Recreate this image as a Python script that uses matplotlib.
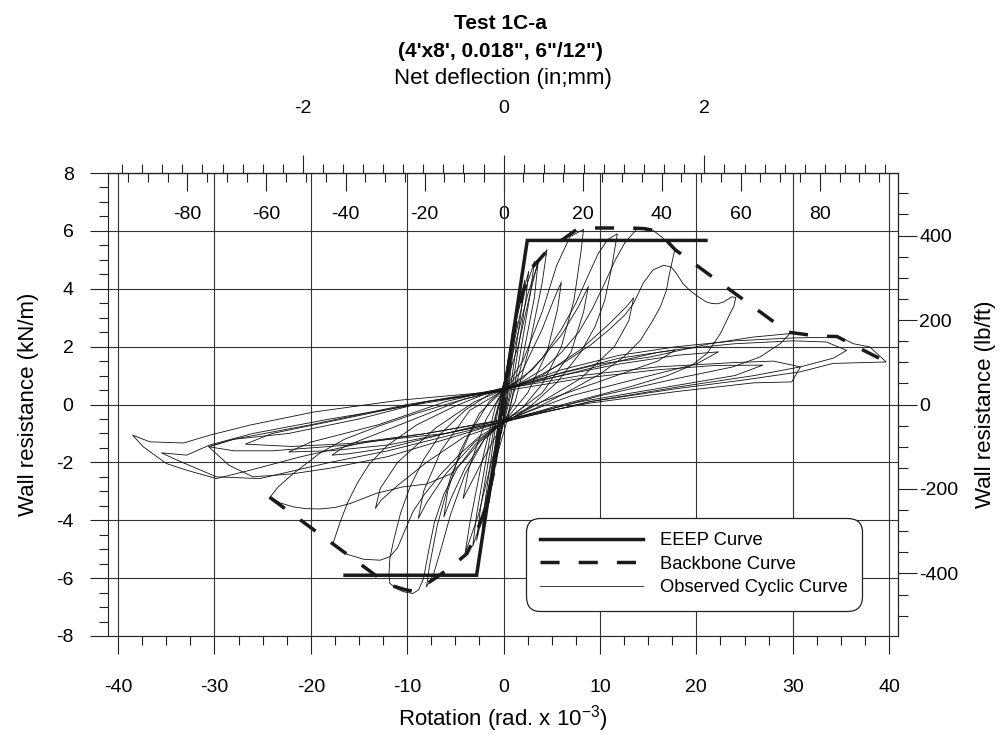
import matplotlib.pyplot as plt
from matplotlib.lines import Line2D
from matplotlib.ticker import MultipleLocator, FixedLocator

plt.rcParams['font.family'] = ['Liberation Sans', 'DejaVu Sans']
plt.rcParams['mathtext.default'] = 'regular'
plt.rcParams['axes.unicode_minus'] = False

# rotation (rad x 1e-3) vs wall resistance (kN/m)
eeep_x = [-16.45, -2.8, 2.46, 21.0]
eeep_y = [-5.9, -5.9, 5.67, 5.67]

backbone_x = [-24.3, -13.3, -11.8, -10.2, -9.4, -8.2, -6.9, -5.2, -3.8, -3.0, -2.0, -1.0, 0.0,
              1.0, 2.0, 3.0, 4.5, 5.5, 7.6, 9.3, 11.4, 13.1, 14.5, 15.9, 16.9, 17.8,
              29.5, 32.7, 34.6, 36.3, 39.75]
backbone_y = [-3.2, -5.9, -6.24, -6.4, -6.45, -6.25, -5.96, -5.55, -5.15, -4.6, -3.7, -2.3, 0.0,
              2.4, 3.9, 4.75, 5.3, 5.55, 6.05, 6.1, 6.1, 6.1, 6.08, 6.0, 5.67, 5.35,
              2.5, 2.36, 2.35, 2.05, 1.47]

# observed cyclic curve, one list per cycle
cyc_01 = [(0, 0.4), (0.4, 1.3), (0.8, 2.1), (0.6, 1.4), (0.2, 0.1), (-0.3, -1.0), (-0.8, -2.1),
          (-0.6, -1.4), (-0.2, -0.1), (0, 0.4)]
cyc_02 = [(0.1, 0.45), (0.7, 1.9), (1.5, 3.4), (1.2, 2.5), (0.4, 0.2), (-0.5, -1.3), (-1.5, -3.4),
          (-1.2, -2.5), (-0.4, -0.1), (0.1, 0.45)]
cyc_03 = [(-0.2, 0.3), (1.0, 2.4), (2.2, 4.3), (1.9, 3.4), (0.6, 0.3), (-0.6, -1.4), (-2.2, -4.3),
          (-1.9, -3.3), (-0.6, -0.2), (-0.2, 0.3)]
cyc_04 = [(-0.3, 0.3), (1.0, 2.0), (2.2, 3.9), (3.2, 4.95), (2.8, 3.9), (1.5, 1.3), (0.5, -0.4),
          (-0.8, -1.9), (-2.2, -3.9), (-3.2, -4.9), (-2.8, -3.8), (-1.4, -1.1), (-0.3, 0.3)]
cyc_05 = [(-0.3, 0.4), (1.0, 1.8), (2.5, 3.8), (3.6, 4.9), (4.5, 5.35), (4.0, 4.2), (2.6, 1.9),
          (1.2, 0.1), (0.0, -0.6), (-1.2, -1.9), (-2.6, -3.8), (-4.0, -5.15), (-3.5, -4.1),
          (-2.2, -1.9), (-0.8, 0.0), (0.0, 0.5)]
cyc_06 = [(0.0, 0.5), (1.5, 2.0), (2.8, 3.9), (3.6, 4.98), (3.2, 3.7), (1.8, 1.3), (0.4, -0.4),
          (-1.5, -1.5), (-3.2, -2.6), (-4.2, -3.25), (-3.6, -2.2), (-1.8, -0.5), (0.0, 0.5)]
cyc_07 = [(0.2, 0.6), (2.0, 1.5), (4.0, 3.2), (5.5, 4.8), (6.9, 5.8), (8.3, 6.05), (8.0, 5.2),
          (7.3, 3.6), (6.0, 2.0), (4.0, 0.7), (2.0, -0.1), (-0.2, -0.65), (-2.0, -1.2), (-4.0, -2.4),
          (-5.5, -3.8), (-6.5, -5.0), (-7.3, -5.9), (-8.0, -6.3), (-7.7, -5.6), (-6.9, -4.2),
          (-5.5, -2.5), (-3.5, -1.0), (-1.5, 0.1), (0.2, 0.6)]
cyc_08 = [(0.0, 0.5), (2.0, 1.2), (4.0, 2.6), (5.3, 3.7), (6.0, 4.23), (5.6, 3.3), (4.5, 1.8),
          (2.5, 0.4), (0.3, -0.5), (-2.0, -1.2), (-4.0, -2.2), (-5.4, -3.2), (-6.2, -3.88),
          (-5.8, -3.0), (-4.5, -1.6), (-2.5, -0.3), (0.0, 0.5)]
cyc_09 = [(0.1, 0.55), (2.0, 0.9), (4.0, 1.6), (6.0, 2.6), (7.5, 3.5), (8.7, 4.4), (9.8, 5.2),
          (10.8, 5.7), (11.8, 5.9), (11.6, 5.5), (11.2, 4.7), (10.5, 3.6), (9.5, 2.7), (8.0, 1.8),
          (5.5, 0.75), (3.0, 0.0), (0.8, -0.5), (-1.0, -0.8), (-3.0, -1.4), (-4.8, -2.2),
          (-6.2, -3.1), (-7.2, -4.1), (-7.8, -5.1), (-8.3, -6.0), (-8.8, -6.4), (-9.4, -6.53),
          (-10.4, -6.47), (-11.2, -6.35), (-11.8, -6.18), (-11.9, -5.9), (-11.8, -5.3),
          (-11.4, -4.69), (-10.7, -3.76), (-9.7, -2.84), (-8.3, -1.9), (-6.5, -1.0), (-4.0, -0.2),
          (-1.5, 0.35), (0.1, 0.55)]
cyc_10 = [(-0.2, 0.45), (3.0, 1.2), (6.0, 2.4), (7.8, 3.4), (8.8, 4.08), (8.3, 3.2), (7.0, 1.8),
          (4.0, 0.4), (0.0, -0.6), (-3.0, -1.3), (-6.0, -2.4), (-8.0, -3.4), (-8.85, -3.94),
          (-8.3, -3.0), (-6.5, -1.6), (-3.5, -0.2), (-0.2, 0.45)]
cyc_11 = [(0.2, 0.6), (2.0, 0.8), (4.0, 1.2), (6.0, 1.8), (7.8, 2.5), (9.2, 3.3), (10.5, 4.2),
          (11.6, 5.0), (12.6, 5.6), (13.8, 6.05), (14.8, 6.1), (15.5, 6.02), (16.4, 5.79),
          (17.2, 5.55), (17.8, 5.39), (17.6, 5.1), (17.2, 4.5), (16.9, 3.95), (16.3, 3.4),
          (15.5, 2.91), (14.2, 2.22), (12.5, 1.65), (10.0, 1.05), (7.0, 0.5), (3.5, -0.1),
          (1.0, -0.45), (-0.5, -0.7), (-2.5, -1.1), (-4.5, -1.7), (-6.5, -2.4), (-8.2, -3.1),
          (-9.4, -3.7), (-10.3, -4.4), (-11.0, -4.95), (-11.8, -5.26), (-12.8, -5.38),
          (-14.5, -5.35), (-16.5, -5.15), (-17.7, -4.8), (-17.4, -4.5), (-17.0, -4.1),
          (-16.2, -3.4), (-15.2, -2.73), (-13.9, -2.04), (-12.0, -1.4), (-9.0, -0.7),
          (-5.0, -0.05), (-2.0, 0.35), (0.2, 0.6)]
cyc_12 = [(0.0, 0.5), (4.0, 1.0), (8.0, 1.9), (11.0, 2.8), (12.8, 3.4), (13.5, 3.69), (13.0, 2.9),
          (11.5, 2.0), (8.0, 0.9), (4.0, 0.1), (-0.4, -0.7), (-4.0, -1.1), (-8.0, -2.0),
          (-11.0, -2.8), (-12.7, -3.3), (-13.3, -3.59), (-12.8, -2.9), (-11.0, -2.0), (-7.0, -0.8),
          (-3.0, 0.1), (0.0, 0.5)]
cyc_13 = [(-0.2, 0.5), (2.0, 0.75), (4.0, 1.05), (6.5, 1.5), (9.0, 2.05), (11.0, 2.6),
          (12.6, 3.1), (13.5, 3.5), (14.5, 4.2), (15.5, 4.65), (16.6, 4.81), (17.4, 4.75),
          (18.0, 4.5), (18.6, 4.18), (19.3, 3.95), (20.0, 3.77), (21.0, 3.55), (21.6, 3.49),
          (22.2, 3.48), (22.8, 3.54), (23.4, 3.66), (23.7, 3.72), (24.1, 3.7), (23.9, 3.4),
          (23.5, 3.14), (22.5, 2.45), (21.1, 1.76), (19.5, 1.35), (17.0, 1.0), (13.0, 0.6),
          (9.0, 0.25), (5.0, -0.1), (1.5, -0.45), (-0.5, -0.7), (-2.5, -1.3), (-4.0, -1.9),
          (-5.5, -2.4), (-8.0, -2.75), (-10.5, -2.85), (-13.2, -3.07), (-15.9, -3.42),
          (-17.5, -3.56), (-19.1, -3.61), (-20.5, -3.6), (-21.8, -3.54), (-23.2, -3.4),
          (-24.2, -3.19), (-23.4, -2.85), (-21.8, -2.38), (-19.1, -1.69), (-16.5, -1.2),
          (-13.0, -0.75), (-9.0, -0.3), (-5.0, 0.1), (-1.5, 0.4), (-0.2, 0.5)]
cyc_14 = [(0.0, 0.5), (6.0, 1.0), (12.0, 1.5), (16.0, 1.8), (17.8, 1.88), (16.0, 1.5), (10.0, 0.8),
          (4.0, 0.1), (0.2, -0.5), (-6.0, -1.0), (-12.0, -1.5), (-16.0, -1.7), (-17.8, -1.75),
          (-16.5, -1.45), (-10.0, -0.6), (-4.0, 0.2), (0.0, 0.5)]
cyc_15 = [(0.3, 0.6), (6.0, 1.0), (12.0, 1.4), (18.0, 1.7), (22.3, 1.82), (20.0, 1.4), (14.0, 0.9),
          (7.0, 0.3), (-0.3, -0.6), (-6.0, -1.0), (-12.0, -1.4), (-18.0, -1.6), (-22.3, -1.64),
          (-20.0, -1.3), (-13.0, -0.7), (-6.0, 0.1), (0.3, 0.6)]
cyc_16 = [(0.0, 0.5), (5.0, 1.0), (10.0, 1.4), (15.2, 1.64), (21.4, 2.1), (25.9, 2.33),
          (29.7, 2.45), (28.7, 2.1), (26.6, 1.64), (23.8, 1.3), (18.0, 0.9), (10.0, 0.3),
          (0.0, -0.6), (-6.0, -1.2), (-12.0, -1.8), (-18.0, -2.2), (-22.0, -2.4), (-26.0, -2.5),
          (-28.5, -2.1), (-30.6, -1.46), (-28.0, -1.2), (-22.3, -1.0), (-15.0, -0.5), (-8.0, 0.1),
          (0.0, 0.5)]
cyc_17 = [(-0.3, 0.45), (8.0, 0.9), (16.0, 1.2), (22.0, 1.35), (26.9, 1.36), (24.0, 1.0),
          (16.0, 0.55), (8.0, 0.1), (-0.2, -0.55), (-8.0, -1.0), (-16.0, -1.35), (-22.0, -1.45),
          (-26.8, -1.37), (-24.0, -1.0), (-16.0, -0.45), (-8.0, 0.1), (-0.3, 0.45)]
cyc_18 = [(0.0, 0.5), (6.0, 1.1), (12.0, 1.6), (18.0, 1.9), (24.0, 2.1), (30.0, 2.2), (33.5, 2.16),
          (35.6, 1.87), (34.2, 1.6), (30.8, 1.3), (26.0, 1.0), (18.0, 0.6), (9.0, 0.1), (0.0, -0.6),
          (-6.0, -1.1), (-12.0, -1.6), (-18.0, -2.0), (-25.3, -2.56), (-29.8, -2.5), (-33.9, -1.92),
          (-35.5, -1.67), (-32.9, -1.75), (-30.5, -1.4), (-26.0, -1.0), (-18.0, -0.5), (-9.0, 0.0),
          (0.0, 0.5)]
cyc_19 = [(0.2, 0.55), (8.0, 1.0), (16.0, 1.3), (24.0, 1.45), (28.0, 1.5), (30.8, 1.3),
          (29.9, 0.78), (26.0, 0.75), (18.0, 0.45), (9.0, 0.05), (0.3, -0.5), (-8.0, -1.0),
          (-16.0, -1.4), (-24.0, -1.6), (-28.0, -1.6), (-30.6, -1.46), (-28.0, -1.2), (-20.0, -0.7),
          (-10.0, 0.0), (0.2, 0.55)]
cyc_20 = [(0.0, 0.5), (6.0, 1.2), (12.0, 1.7), (18.0, 2.0), (24.0, 2.2), (30.0, 2.3), (34.9, 2.33),
          (36.3, 2.1), (38.0, 1.99), (39.7, 1.47), (37.5, 1.45), (34.2, 1.42), (30.8, 1.13),
          (25.0, 0.85), (18.0, 0.55), (9.0, 0.1), (0.0, -0.6), (-6.0, -1.0), (-14.2, -1.29),
          (-21.1, -1.81), (-26.3, -2.27), (-29.8, -2.56), (-32.9, -2.27), (-35.0, -2.04),
          (-37.4, -1.46), (-38.5, -1.06), (-36.7, -1.29), (-33.2, -1.33), (-30.5, -1.06),
          (-26.3, -0.71), (-19.7, -0.26), (-10.75, 0.15), (-1.07, 0.44), (0.0, 0.5)]
cyc_21 = [(-0.2, 0.3), (1.2, 2.8), (2.6, 4.6), (2.3, 3.6), (0.8, 0.4), (-0.7, -1.6), (-2.8, -4.7),
          (-2.4, -3.6), (-0.8, -0.4), (-0.2, 0.3)]
cyc_22 = [(0, 0.4), (0.5, 1.6), (1.1, 2.7), (0.9, 2.0), (0.3, 0.1), (-0.4, -1.2), (-1.2, -2.8),
          (-0.9, -2.0), (-0.3, 0.0), (0, 0.4)]

cycles = [cyc_01, cyc_02, cyc_03, cyc_04, cyc_05, cyc_06, cyc_07, cyc_08, cyc_09, cyc_10, cyc_11,
          cyc_12, cyc_13, cyc_14, cyc_15, cyc_16, cyc_17, cyc_18, cyc_19, cyc_20, cyc_21, cyc_22]

KN_TO_LBFT = 68.52
ROT_TO_IN = 0.096
ROT_TO_MM = 0.096 * 25.4

fig = plt.figure(figsize=(10.05, 7.34), dpi=100)
ax = fig.add_axes([108.3 / 1005, 98 / 734, 790 / 1005, 463 / 734])
ax.set_xlim(-41.02, 40.96)
ax.set_ylim(-8, 8)

for cyc in cycles:
    xs = [p[0] for p in cyc]
    ys = [p[1] for p in cyc]
    ax.plot(xs, ys, color='#111111', lw=0.6, zorder=2)

ax.plot(eeep_x, eeep_y, color='#1a1a1a', lw=2.5, zorder=3, solid_joinstyle='miter')
ax.plot(backbone_x, backbone_y, color='#1a1a1a', lw=2.5, dashes=(5.5, 5.5), zorder=3)

ax.grid(True, color='#333333', lw=0.8)
ax.set_axisbelow(True)
for s in ax.spines.values():
    s.set_color('#222222')
    s.set_linewidth(0.8)

ax.xaxis.set_major_locator(MultipleLocator(10))
ax.xaxis.set_minor_locator(MultipleLocator(2.5))
ax.yaxis.set_major_locator(MultipleLocator(2))
ax.yaxis.set_minor_locator(MultipleLocator(0.5))
ax.tick_params(which='both', direction='out', top=False, right=False, color='#222222', width=0.8,
               labelsize=14)
ax.tick_params(which='major', length=13)
ax.tick_params(which='minor', length=6.5)
ax.tick_params(axis='x', which='major', pad=18)
ax.tick_params(axis='y', which='major', pad=12)

ax.set_xlabel('Rotation (rad. x 10$^{-3}$)', fontsize=16, labelpad=5)
ax.set_ylabel('Wall resistance (kN/m)', fontsize=16, labelpad=12)

# top: net deflection in inches (outside) and mm (inside)
top_in = ax.secondary_xaxis('top', functions=(lambda r: r * ROT_TO_IN, lambda d: d / ROT_TO_IN))
top_in.xaxis.set_major_locator(FixedLocator([-2, 0, 2]))
top_in.xaxis.set_minor_locator(MultipleLocator(0.2))
top_in.tick_params(which='both', direction='out', color='#222222', width=0.8, labelsize=14)
top_in.tick_params(which='major', length=13, pad=27)
top_in.tick_params(which='minor', length=6.5)
top_in.set_xlabel('Net deflection (in;mm)', fontsize=16, labelpad=12)

top_mm = ax.secondary_xaxis('top', functions=(lambda r: r * ROT_TO_MM, lambda d: d / ROT_TO_MM))
top_mm.xaxis.set_major_locator(FixedLocator([-80, -60, -40, -20, 0, 20, 40, 60, 80]))
top_mm.xaxis.set_minor_locator(MultipleLocator(5))
top_mm.tick_params(which='both', direction='in', color='#222222', width=0.8, labelsize=14)
top_mm.tick_params(which='major', length=13, pad=-36)
top_mm.tick_params(which='minor', length=6.5)

# right: wall resistance in lb/ft
right = ax.secondary_yaxis('right', functions=(lambda y: y * KN_TO_LBFT, lambda v: v / KN_TO_LBFT))
right.yaxis.set_major_locator(MultipleLocator(200))
right.yaxis.set_minor_locator(MultipleLocator(50))
right.tick_params(which='both', direction='out', color='#222222', width=0.8, labelsize=14)
right.tick_params(which='major', length=14, pad=1)
right.tick_params(which='minor', length=7)
right.set_ylabel('Wall resistance (lb/ft)', fontsize=16, rotation=90, labelpad=12)

fig.text(0.4975, 0.968, 'Test 1C-a', ha='center', va='center', fontsize=15, fontweight='bold')
fig.text(0.4975, 0.930, '(4\'x8\', 0.018", 6"/12")', ha='center', va='center', fontsize=15,
         fontweight='bold')

handles = [Line2D([], [], color='#1a1a1a', lw=2.5),
           Line2D([], [], color='#1a1a1a', lw=2.5, dashes=(5.5, 5.5)),
           Line2D([], [], color='#1a1a1a', lw=0.6)]
leg = ax.legend(handles, ['EEEP Curve', 'Backbone Curve', 'Observed Cyclic Curve'],
                loc='center', bbox_to_anchor=(0.6905, 0.2313), bbox_transform=fig.transFigure,
                fontsize=13.2, handlelength=5.6, handletextpad=0.9, labelspacing=0.34,
                borderpad=0.8, framealpha=1, fancybox=True)
leg.get_frame().set_edgecolor('#222222')
leg.get_frame().set_linewidth(0.9)
leg.get_frame().set_boxstyle('round', pad=0.0, rounding_size=0.8)
leg.set_zorder(5)

fig.savefig('out.png', dpi=100)
